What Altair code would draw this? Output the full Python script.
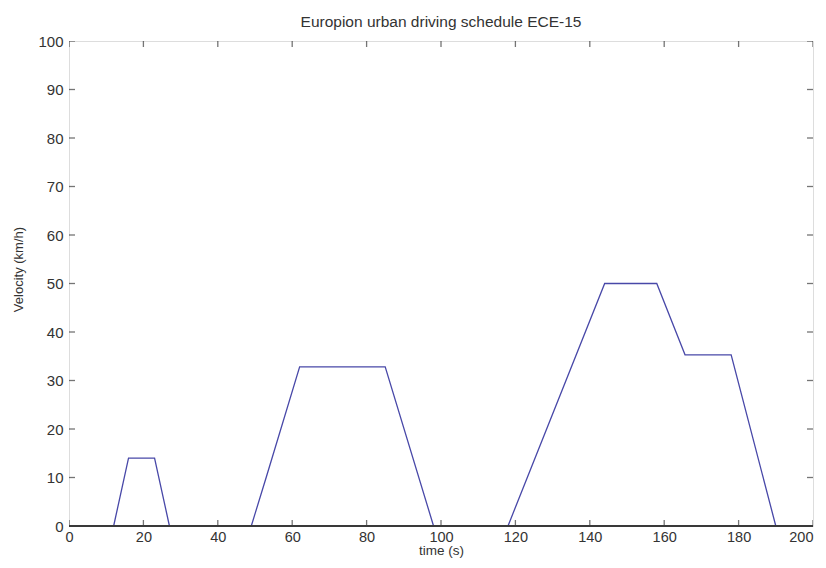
import altair as alt
import pandas as pd

# ---- data ----
time_s = [0, 12, 16, 23, 27, 49, 53, 62, 85, 98, 118, 144, 158, 165.6, 178, 190, 195]
velocity_kmh = [0, 0, 14, 14, 0, 0, 10, 32.8, 32.8, 0, 0, 50, 50, 35.3, 35.3, 0, 0]

x_ticks = [0, 20, 40, 60, 80, 100, 120, 140, 160, 180, 200]
y_ticks = [0, 10, 20, 30, 40, 50, 60, 70, 80, 90, 100]

title_text = "Europion urban driving schedule ECE-15"
x_title = "time (s)"
y_title = "Velocity (km/h)"

df = pd.DataFrame({"t": time_s, "v": velocity_kmh})
xt = pd.DataFrame({"x": x_ticks})
yt = pd.DataFrame({"y": y_ticks})

W, H = 744, 485
FONT = "Liberation Sans"
AX = "#3a3a3a"

xs = alt.Scale(domain=[0, 200], nice=False, zero=False)
ys = alt.Scale(domain=[0, 100], nice=False, zero=False)

line = alt.Chart(df).mark_line(color="#4848a8", strokeWidth=1.3).encode(
    x=alt.X("t:Q", scale=xs,
            axis=alt.Axis(values=x_ticks, title=x_title, domain=False, ticks=False,
                          grid=False, labelFontSize=14.5, titleFontSize=13.5,
                          labelPadding=4, titlePadding=0, labelColor="#333",
                          titleColor="#333", titleFontWeight="normal",
                          labelAlign=alt.expr("datum.value == 200 ? 'right' : 'center'"),
                          labelFont=FONT, titleFont=FONT, labelFlush=False)),
    y=alt.Y("v:Q", scale=ys,
            axis=alt.Axis(values=y_ticks, title=y_title, domain=False, ticks=False,
                          grid=False, labelFontSize=15, titleFontSize=13,
                          labelPadding=6, titlePadding=12, labelColor="#333",
                          titleColor="#333", titleFontWeight="normal",
                          titleY=228,
                          labelFont=FONT, titleFont=FONT, labelFlush=False)),
)

base_rule = alt.Chart(df).mark_rule(color=AX, strokeWidth=1.5).encode(
    y=alt.datum(0, scale=ys)
)

xtick_b = alt.Chart(xt).mark_tick(color=AX, size=12, thickness=1.3, clip=True).encode(
    x=alt.X("x:Q", scale=xs), y=alt.value(H)
)
xtick_t = alt.Chart(xt).mark_tick(color=AX, size=12, thickness=1.3, clip=True).encode(
    x=alt.X("x:Q", scale=xs), y=alt.value(0)
)
ytick_l = alt.Chart(yt).mark_tick(color=AX, size=12, thickness=1.3, clip=True).encode(
    y=alt.Y("y:Q", scale=ys), x=alt.value(0)
)
ytick_r = alt.Chart(yt).mark_tick(color=AX, size=12, thickness=1.3, clip=True).encode(
    y=alt.Y("y:Q", scale=ys), x=alt.value(W)
)

chart = alt.layer(line, base_rule, xtick_b, xtick_t, ytick_l, ytick_r).properties(
    width=W, height=H,
    title=alt.TitleParams(title_text, fontSize=15.5, font=FONT, fontWeight="normal",
                          color="#333", offset=4),
    autosize=alt.AutoSizeParams(type="none"),
    padding={"left": 61, "top": 33, "right": 5, "bottom": 34},
).configure_view(stroke=AX, strokeWidth=1.5).configure(background="white")

chart.save("out.html", embed_options={"renderer": "svg", "actions": False})
